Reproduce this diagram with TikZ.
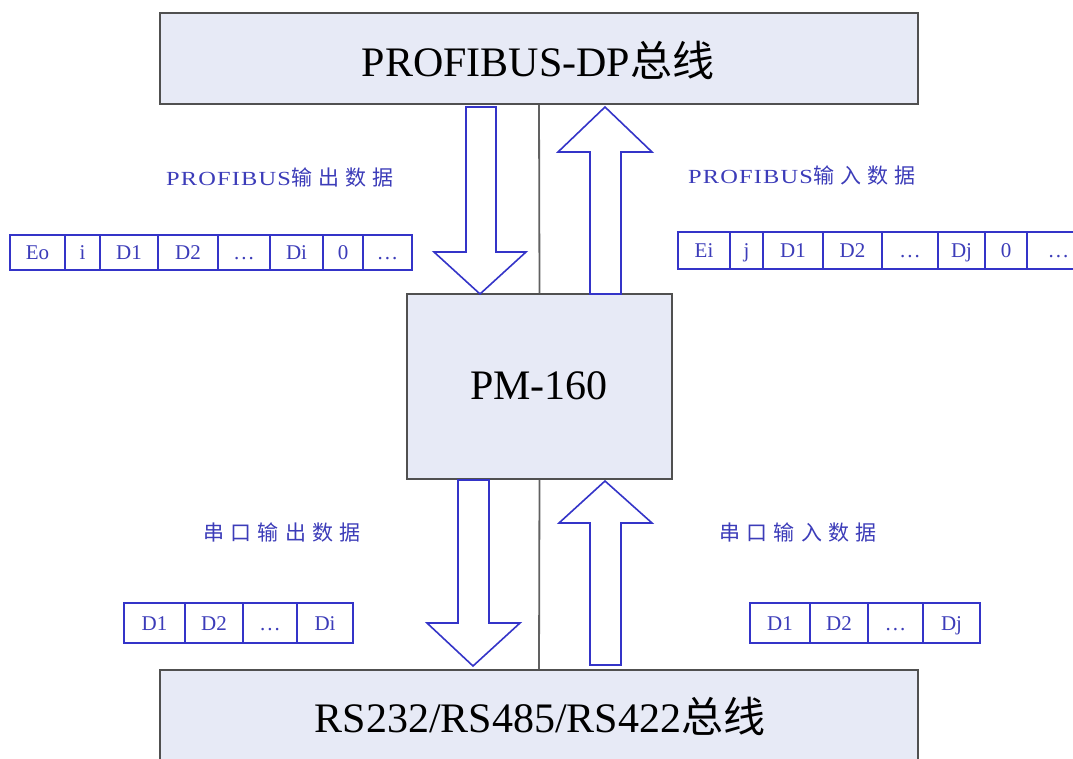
\documentclass[tikz,border=0pt]{standalone}
\usepackage{fontspec}
\setmainfont{Liberation Serif}
\newfontfamily\cjk{Noto Sans CJK SC}
\newfontfamily\lbl[FakeStretch=1.22,LetterSpace=6]{Liberation Serif}
\newfontfamily\cjklbl[LetterSpace=30]{Noto Sans CJK SC}
\newcommand{\dotsx}{.\kern2pt.\kern2pt.}
\definecolor{bl}{RGB}{52,52,200}
\definecolor{lbltxt}{RGB}{60,60,185}
\definecolor{boxfill}{RGB}{231,234,246}
\definecolor{boxline}{RGB}{80,80,80}
\tikzset{
  bigbox/.style={draw=boxline, line width=2pt, fill=boxfill, inner sep=0pt},
  titletext/.style={inner sep=0pt, font=\fontsize{42}{46}\selectfont},
  cell/.style={draw=bl, line width=1.3pt, inner sep=0pt, text=lbltxt, text height=14pt, text depth=0pt, font=\fontsize{21}{24}\selectfont},
  barrow/.style={draw=bl, line width=1.6pt, fill=white, line join=miter},
  vline/.style={draw=boxline!90, line width=1.8pt},
  lbltext/.style={text=lbltxt, inner sep=0pt, font=\fontsize{20}{24}\selectfont}
}
\begin{document}
\begin{tikzpicture}[x=1pt,y=-1pt]
\useasboundingbox (0,0) rectangle (1073,758);
\clip (0,0) rectangle (1073,758);
\fill[white] (0,0) rectangle (1073,758);
% main boxes
\node[bigbox, minimum width=758pt, minimum height=91pt] (top) at (539,58.5) {};
\node[titletext] (toptxt) at (538,60) {PROFIBUS-DP{\cjk 总线}};
\node[bigbox, minimum width=265pt, minimum height=185pt] (pm) at (539.5,386.5) {};
\node[titletext] (pmtxt) at (539,386) {PM-160};
\node[bigbox, minimum width=758pt, minimum height=132pt, anchor=north] (bot) at (539,669) {};
\node[titletext] (bottxt) at (540,716) {RS232/RS485/RS422{\cjk 总线}};
% vertical lines
\draw[vline] (top.south) -- (pm.north);
\draw[vline] (pm.south) -- (bot.north);
% block arrows
\draw[barrow] (466,107) -- (496,107) -- (496,252) -- (526,252) -- (480,294) -- (434,252) -- (466,252) -- cycle;
\draw[barrow] (605,107) -- (652,152) -- (621,152) -- (621,294) -- (590,294) -- (590,152) -- (558,152) -- cycle;
\draw[barrow] (458,480) -- (489,480) -- (489,623) -- (520,623) -- (473,666) -- (427,623) -- (458,623) -- cycle;
\draw[barrow] (605,481) -- (652,523) -- (621,523) -- (621,665) -- (590,665) -- (590,523) -- (559,523) -- cycle;
% labels
\node[lbltext] (lo) at (280,178) {{\lbl PROFIBUS}{\fontsize{21}{24}\selectfont\cjklbl 输出数据}};
\node[lbltext] (li) at (802,176) {{\lbl PROFIBUS}{\fontsize{21}{24}\selectfont\cjklbl 输入数据}};
\node[lbltext] (so) at (282,533) {{\fontsize{21}{24}\selectfont\cjklbl 串口输出数据}};
\node[lbltext] (si) at (798,533) {{\fontsize{21}{24}\selectfont\cjklbl 串口输入数据}};
% cells
\foreach \a/\b/\t [count=\i] in {10/65/Eo,65/100/i,100/158/D1,158/218/D2,218/270/\dotsx,270/323/Di,323/363/0,363/412/\dotsx}
  \node[cell, minimum width={(\b-\a)*1pt}, minimum height=35pt] (tl\i) at ({(\a+\b)/2},252.5) {\t};
\foreach \a/\b/\t [count=\i] in {678/730/Ei,730/763/j,763/823/D1,823/882/D2,882/938/\dotsx,938/985/Dj,985/1027/0,1027/1090/\dotsx}
  \node[cell, minimum width={(\b-\a)*1pt}, minimum height=37pt] (tr\i) at ({(\a+\b)/2},250.5) {\t};
\foreach \a/\b/\t [count=\i] in {124/185/D1,185/243/D2,243/297/\dotsx,297/353/Di}
  \node[cell, minimum width={(\b-\a)*1pt}, minimum height=40pt] (bl\i) at ({(\a+\b)/2},623) {\t};
\foreach \a/\b/\t [count=\i] in {750/810/D1,810/868/D2,868/923/\dotsx,923/980/Dj}
  \node[cell, minimum width={(\b-\a)*1pt}, minimum height=40pt] (br\i) at ({(\a+\b)/2},623) {\t};
\end{tikzpicture}
\end{document}
